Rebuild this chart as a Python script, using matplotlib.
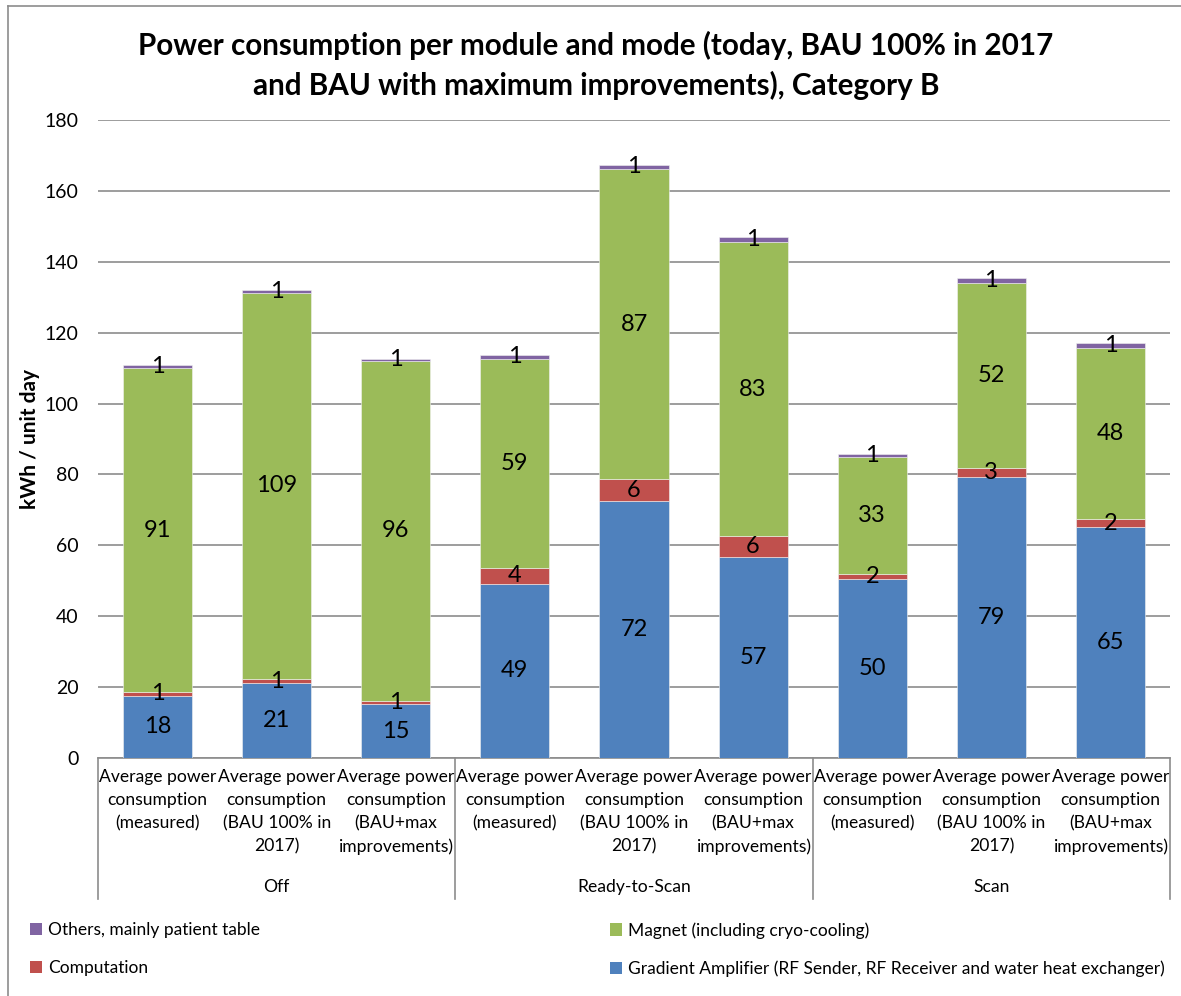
import matplotlib
matplotlib.use("Agg")
import matplotlib.pyplot as plt
import matplotlib.transforms as mtransforms
from matplotlib.lines import Line2D
from matplotlib.patches import Patch
import numpy as np

plt.rcParams['font.family'] = ['Lato', 'DejaVu Sans']

# ---------------- data ----------------
categories = [
    "Average power\nconsumption\n(measured)",
    "Average power\nconsumption\n(BAU 100% in\n2017)",
    "Average power\nconsumption\n(BAU+max\nimprovements)",
] * 3
groups = ["Off", "Ready-to-Scan", "Scan"]

gradient = [17.6, 21.1, 15.1, 49.2, 72.5, 56.6, 50.4, 79.3, 65.1]
computation = [1.0, 1.2, 1.0, 4.3, 6.2, 5.9, 1.6, 2.6, 2.3]
magnet = [91.4, 109.0, 96.0, 59.2, 87.4, 83.0, 33.0, 52.2, 48.2]
others = [0.8, 0.6, 0.6, 0.9, 1.3, 1.4, 0.8, 1.3, 1.4]

series_names = [
    "Gradient Amplifier (RF Sender, RF Receiver and water heat exchanger)",
    "Computation",
    "Magnet (including cryo-cooling)",
    "Others, mainly patient table",
]
series_values = [gradient, computation, magnet, others]
colors = ["#4F81BD", "#C0504D", "#9BBB59", "#8064A2"]

title = ("Power consumption per module and mode (today, BAU 100% in 2017\n"
         "and BAU with maximum improvements), Category B")
ylabel = "kWh / unit day"
yticks = [0, 20, 40, 60, 80, 100, 120, 140, 160, 180]

# ---------------- figure ----------------
W, H = 1181, 996
fig = plt.figure(figsize=(W / 100, H / 100), dpi=100)
ax = fig.add_axes([98 / W, 1 - 758 / H, (1170 - 98) / W, (758 - 120) / H])

x = np.arange(len(categories))
bottom = np.zeros(len(categories))
for vals, col, name in zip(series_values, colors, series_names):
    vals = np.array(vals)
    ax.bar(x, vals, width=0.58, bottom=bottom, color=col,
           edgecolor="#f2f2f2", linewidth=0.4, label=name, zorder=3)
    for xi, v, bt in zip(x, vals, bottom):
        ax.text(xi, bt + v / 2, f"{v:.0f}", ha="center", va="center",
                fontsize=17, color="black", zorder=5)
    bottom = bottom + vals

ax.set_xlim(-0.5, len(categories) - 0.5)
ax.set_ylim(0, 180)
ax.set_yticks(yticks)
ax.set_yticklabels([str(t) for t in yticks], fontsize=14)
ax.tick_params(axis="y", length=0, pad=14)
ax.set_xticks([])
ax.yaxis.grid(True, color="#8c8c8c", linewidth=1.2, zorder=0)
ax.set_axisbelow(True)
for s in ["top", "right", "left"]:
    ax.spines[s].set_visible(False)
ax.spines["bottom"].set_color("#8c8c8c")
ax.spines["bottom"].set_linewidth(1.2)

ax.set_ylabel(ylabel, fontsize=15, fontweight="bold")
ax.yaxis.set_label_coords(-58 / 1072, 0.5)

trans = mtransforms.blended_transform_factory(ax.transData, ax.transAxes)
ah = 758 - 120
for xi, lab in zip(x, categories):
    ax.text(xi, -11 / ah, lab, transform=trans, ha="center", va="top",
            fontsize=12.6, linespacing=1.53, clip_on=False)
for gi, g in enumerate(groups):
    ax.text(gi * 3 + 1, -129 / ah, g, transform=trans, ha="center",
            va="center", fontsize=12.6, clip_on=False)
for sx in [-0.5, 2.5, 5.5, 8.5]:
    ax.add_line(Line2D([sx, sx], [0, -141 / ah], transform=trans,
                       color="#8c8c8c", linewidth=1.2, clip_on=False))

fig.suptitle(title, x=596 / W, y=1 - 31 / H, fontsize=21.3,
             fontweight="bold", linespacing=1.45, va="top")

# legend
h_oth = Patch(facecolor=colors[3], label=series_names[3])
h_comp = Patch(facecolor=colors[1], label=series_names[1])
h_mag = Patch(facecolor=colors[2], label=series_names[2])
h_grad = Patch(facecolor=colors[0], label=series_names[0])
leg_kw = dict(frameon=False, fontsize=12.5, handlelength=0.7, handleheight=0.7,
              handletextpad=0.35, labelspacing=1.25, borderaxespad=0,
              borderpad=0)
fig.legend(handles=[h_oth, h_comp], loc="upper left",
           bbox_to_anchor=(30 / W, 1 - 922 / H), **leg_kw)
fig.legend(handles=[h_mag, h_grad], loc="upper left",
           bbox_to_anchor=(610 / W, 1 - 922 / H), **leg_kw)

# outer chart border (partially cropped)
fig.add_artist(Line2D([8 / W, 8 / W], [0, 1 - 6 / H], transform=fig.transFigure,
                      color="#8c8c8c", linewidth=1.2))
fig.add_artist(Line2D([8 / W, 1], [1 - 6 / H, 1 - 6 / H], transform=fig.transFigure,
                      color="#8c8c8c", linewidth=1.2))

fig.savefig("out.png", dpi=100)
